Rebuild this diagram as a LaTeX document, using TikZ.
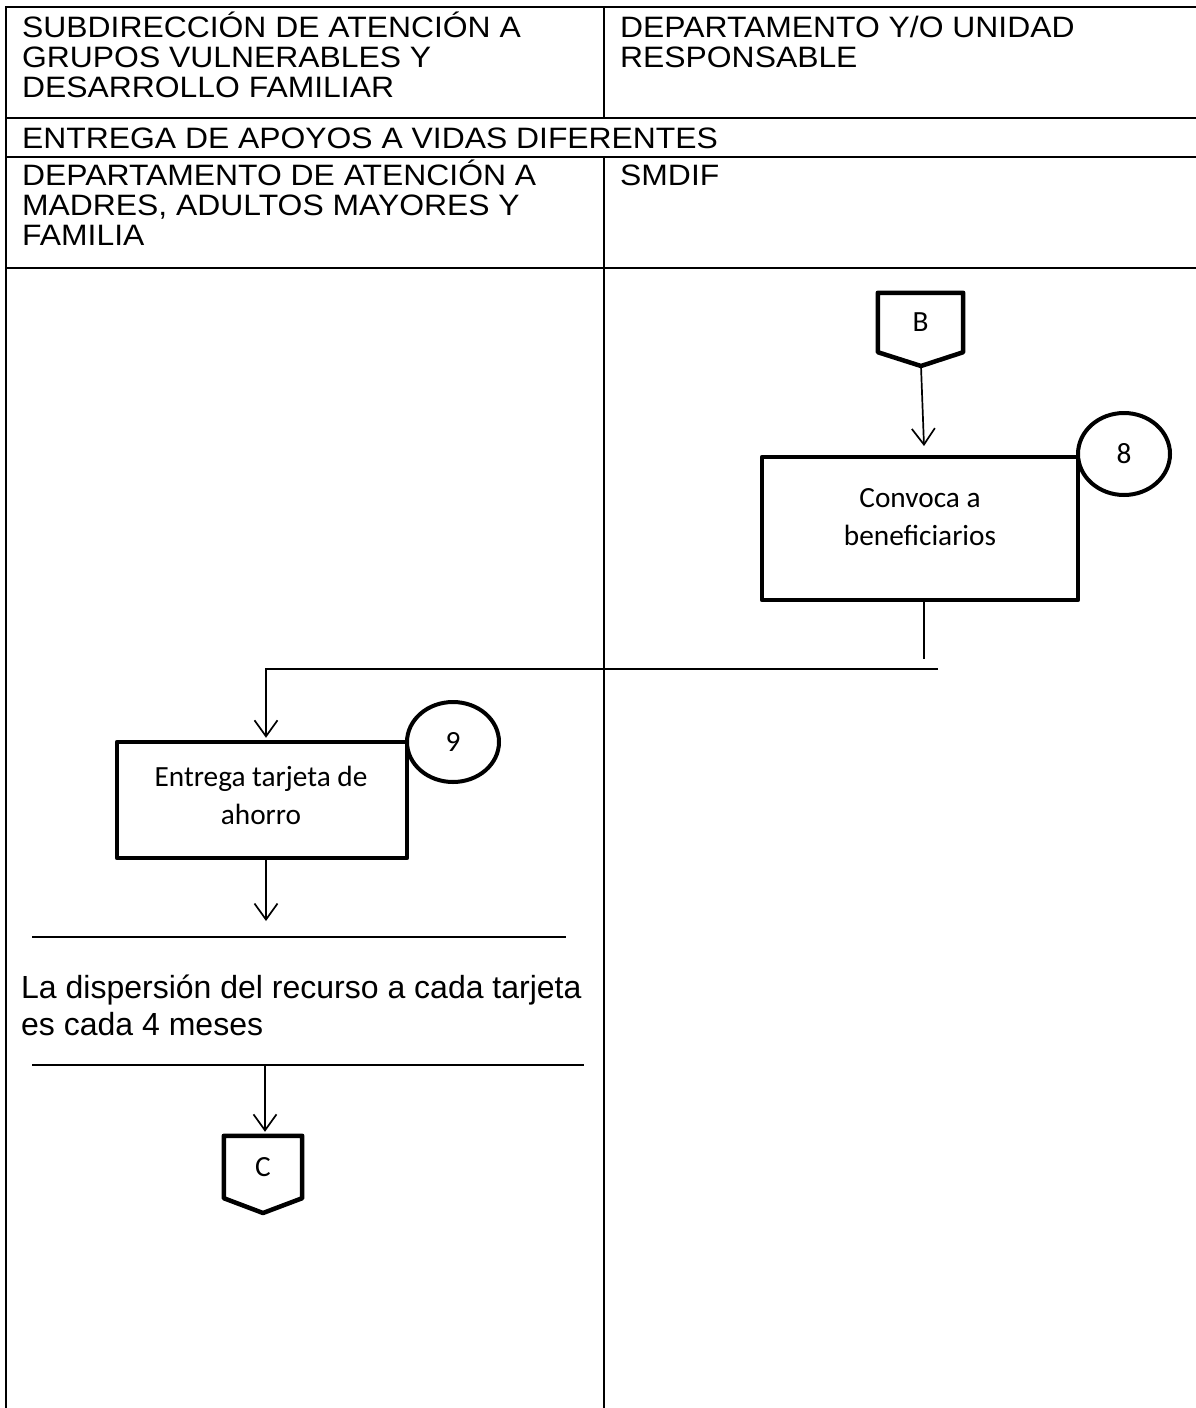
\documentclass[tikz,border=0pt]{standalone}
\usepackage{fontspec}
\setmainfont{Liberation Sans}
\newfontfamily\hdrfont[FakeStretch=1.08]{Liberation Sans}
\newfontfamily\calfont{Carlito}
\usetikzlibrary{arrows.meta,shapes.geometric,calc}
\tikzset{
  grid/.style={line width=2.2pt,line cap=rect},
  hdr/.style={anchor=base west,inner sep=0pt,align=left,font={\hdrfont\fontsize{29.5}{30}\selectfont\lineskiplimit=-30pt}},
  proc/.style={draw,line width=4.5pt,line join=round,inner sep=0pt},
  boxtext/.style={inner sep=0pt,align=center,font={\calfont\fontsize{29.3}{38}\selectfont\lineskiplimit=-30pt}},
  stepnum/.style={draw,ellipse,line width=4pt,fill=white,inner sep=0pt,minimum width=92pt,font={\calfont\fontsize{29.3}{34}\selectfont}},
  offpage/.style={inner sep=0pt,font={\calfont\fontsize{29.3}{34}\selectfont}},
  offline/.style={line width=4.5pt,line join=round},
  conn/.style={line width=1.6pt},
  arr/.style={line width=1.7pt,-{Straight Barb[length=16pt,width=23pt]}}
}
\begin{document}
\begin{tikzpicture}[x=1pt,y=-1pt]
\useasboundingbox (0,0) rectangle (1196,1408);
% table
\coordinate (TL) at (6,7);
\coordinate (TR) at (1196,7);
\coordinate (BL) at (6,1408);
\coordinate (CT) at (604,7);
\coordinate (CB) at (604,1408);
\draw[grid] (TL) -- (TR);
\draw[grid] (6,118) -- (1196,118);
\draw[grid] (6,157) -- (1196,157);
\draw[grid] (6,268) -- (1196,268);
\draw[grid] (TL) -- (BL);
\draw[grid] (CT) -- (604,118);
\draw[grid] (604,157) -- (CB);
% headers (anchor = baseline of last line)
\node[hdr] (h1) at (22,97) {SUBDIRECCIÓN DE ATENCIÓN A\\GRUPOS VULNERABLES Y\\DESARROLLO FAMILIAR};
\node[hdr] (h2) at (620,67) {DEPARTAMENTO Y/O UNIDAD\\RESPONSABLE};
\node[hdr] (h3) at (22,148) {ENTREGA DE APOYOS A VIDAS DIFERENTES};
\node[hdr] (h4) at (22,245) {DEPARTAMENTO DE ATENCIÓN A\\MADRES, ADULTOS MAYORES Y\\FAMILIA};
\node[hdr] (h5) at (620,185) {SMDIF};
% off-page connector B
\node[offpage,minimum width=85pt,minimum height=59pt] (B) at (920.5,322.5) {B};
\coordinate (Bt) at (921,366);
\draw[offline] (B.north west) -- (B.north east) -- (B.south east) -- (Bt) -- (B.south west) -- cycle;
% step 8
\node[proc,minimum width=316pt,minimum height=143pt] (box8) at (920,528.5) {};
\node[boxtext] (t8) at (920,517.5) {Convoca a\\beneficiarios};
\node[stepnum,minimum height=82pt] (n8) at (1124,454) {8};
\coordinate (e8) at (924,446);
\draw[arr] (Bt) -- (e8);
\coordinate (d8) at (924,659);
\draw[conn] (d8 |- box8.south) -- (d8);
\coordinate (hA) at (938,669);
\coordinate (hB) at (266,669);
% step 9
\node[proc,minimum width=290pt,minimum height=116pt] (box9) at (262,800) {};
\node[boxtext] (t9) at (261,795) {Entrega tarjeta de\\ahorro};
\node[stepnum,minimum height=80pt] (n9) at (453,742) {9};
\draw[arr] (hA) -- (hB) -- ([yshift=2pt]hB |- box9.north);
\coordinate (e9) at (266,921);
\draw[arr] (e9 |- box9.south) -- (e9);
% note
\coordinate (L1a) at (32,937);
\coordinate (L1b) at (566,937);
\coordinate (L2a) at (32,1065);
\coordinate (L2b) at (584,1065);
\draw[conn] (L1a) -- (L1b);
\draw[conn] (L2a) -- (L2b);
\node[anchor=base west,inner sep=0pt,align=left,font={\fontsize{32}{37}\selectfont}] (note) at (21,1035) {La dispersión del recurso a cada tarjeta\\es cada 4 meses};
% off-page connector C
\node[offpage,minimum width=78pt,minimum height=62pt] (C) at (263,1167) {C};
\coordinate (Ct) at (263,1213);
\draw[offline] (C.north west) -- (C.north east) -- (C.south east) -- (Ct) -- (C.south west) -- cycle;
\coordinate (sC) at (265,1065);
\draw[arr] (sC) -- ([yshift=4pt]sC |- C.north);
\end{tikzpicture}
\end{document}
